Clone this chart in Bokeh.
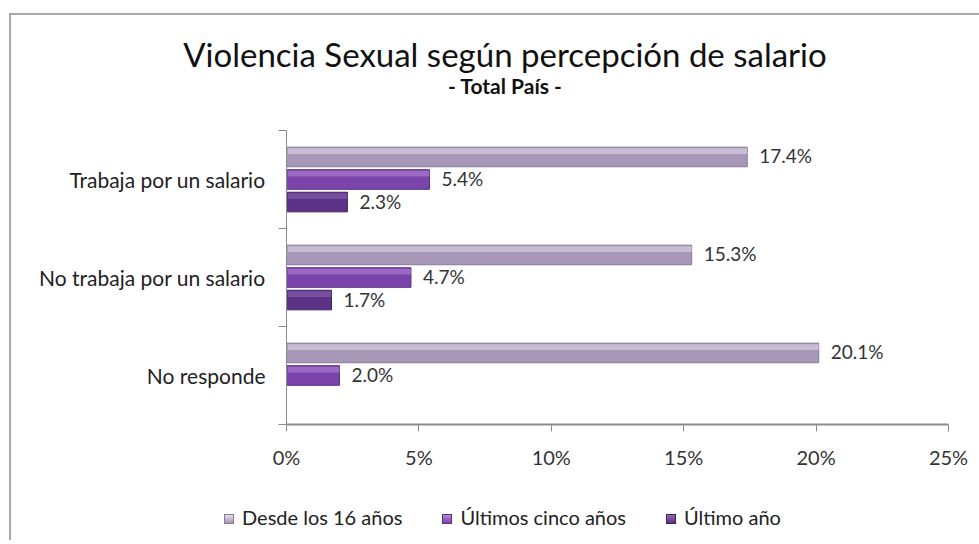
from bokeh.plotting import figure
from bokeh.models import (ColumnDataSource, Range1d, FixedTicker, LabelSet, Div)
from bokeh.layouts import column
from bokeh.embed import file_html
from bokeh.resources import INLINE
from bokeh.core.properties import value

# ---- data ----
categories = ["Trabaja por un salario", "No trabaja por un salario", "No responde"]
series_names = ["Desde los 16 años", "Últimos cinco años", "Último año"]
desde_16 = [17.4, 15.3, 20.1]
cinco_anos = [5.4, 4.7, 2.0]
ultimo_ano = [2.3, 1.7, None]
x_ticks = [0, 5, 10, 15, 20, 25]
x_tick_labels = ["0%", "5%", "10%", "15%", "20%", "25%"]
title_text = "Violencia Sexual según percepción de salario"
subtitle_text = "- Total País -"

# ---- style ----
FONT = "Lato"
OX, OY = 11, 15          # offset of content inside the grey chart border
W = 968
colors = ["#a698b6", "#7a44aa", "#5b3286"]
highlights = ["#e4ddec", "#b288d8", "#8e68b2"]
line_colors = ["#857898", "#5a2f86", "#41235f"]
offsets = [0.23, 0.0, -0.23]
bar_h = 0.2

n = len(categories)
centers = [n - i - 0.5 for i in range(n)]

# ---- title block ----
title_div = Div(
    text=(f'<div style="position:relative;width:{W}px;height:85px;font-family:Lato;color:#111;">'
          f'<div style="position:absolute;left:{30 - OX}px;width:950px;top:{37 - OY}px;text-align:center;'
          f'font-size:33px;line-height:34px;white-space:nowrap;">{title_text}</div>'
          f'<div style="position:absolute;left:{30 - OX}px;width:950px;top:{75 - OY}px;text-align:center;'
          f'font-size:21px;font-weight:bold;line-height:22px;white-space:nowrap;">{subtitle_text}</div>'
          '</div>'),
    width=W, height=85, margin=0)

# ---- main chart ----
p = figure(width=W, height=390, output_backend="svg", toolbar_location=None,
           title=None, x_range=Range1d(0, 25), y_range=Range1d(0, n),
           min_border_left=286 - OX, min_border_right=W - (948 - OX), min_border_top=30,
           min_border_bottom=66, margin=0)
p.outline_line_color = None
p.xgrid.visible = False
p.ygrid.visible = False

for s, vals in enumerate([desde_16, cinco_anos, ultimo_ano]):
    ys, yh, rs, labs = [], [], [], []
    for i, v in enumerate(vals):
        if v is None:
            continue
        ys.append(centers[i] + offsets[s])
        yh.append(centers[i] + offsets[s] + bar_h * 0.3)
        rs.append(v)
        labs.append(f"{v:.1f}%")
    src = ColumnDataSource(dict(y=ys, yh=yh, right=rs, lab=labs))
    p.hbar(y="y", left=0, right="right", height=bar_h, source=src,
           fill_color=colors[s], line_color=line_colors[s], line_width=1)
    # glossy highlight on the upper part of each bar
    p.hbar(y="yh", left=0.05, right="right", height=bar_h * 0.3, source=src,
           fill_color=highlights[s], fill_alpha=0.55, line_color=None)
    ls = LabelSet(x="right", y="y", text="lab", source=src, x_offset=12, y_offset=1,
                  text_baseline="middle", text_font=value(FONT),
                  text_font_size="19px", text_color="#333333")
    p.add_layout(ls)

# x axis
xa = p.xaxis[0]
xa.ticker = FixedTicker(ticks=x_ticks)
xa.major_label_overrides = {t: l for t, l in zip(x_ticks, x_tick_labels)}
xa.axis_line_color = "#8c8c8c"
xa.axis_line_width = 2
xa.major_tick_line_color = "#8c8c8c"
xa.major_tick_out = 7
xa.major_tick_in = 0
xa.minor_tick_line_color = None
xa.major_label_text_font = FONT
xa.major_label_text_font_size = "20px"
xa.major_label_text_color = "#333333"
xa.major_label_standoff = 13

# y axis
ya = p.yaxis[0]
ya.ticker = FixedTicker(ticks=centers, minor_ticks=list(range(n + 1)))
ya.major_label_overrides = {c: cat for c, cat in zip(centers, categories)}
ya.axis_line_color = "#8c8c8c"
ya.axis_line_width = 1
ya.major_tick_line_color = None
ya.major_tick_out = 0
ya.major_tick_in = 0
ya.minor_tick_line_color = "#8c8c8c"
ya.minor_tick_out = 8
ya.minor_tick_in = 0
ya.major_label_text_font = FONT
ya.major_label_text_font_size = "21px"
ya.major_label_text_color = "#222222"
ya.major_label_standoff = 13

# ---- legend strip ----
swatch = ('<span style="display:inline-block;width:10px;height:10px;margin-right:8px;'
          'vertical-align:middle;position:relative;top:-1px;border:1px solid {lc};'
          'background:linear-gradient(to bottom,{hc},{c});box-sizing:border-box;"></span>')
items_html = "".join(
    f'<span style="display:inline-block;margin-right:40px;white-space:nowrap;">'
    f'{swatch.format(c=colors[s], hc=highlights[s], lc=line_colors[s])}{name}</span>'
    for s, name in enumerate(series_names))
legend_div = Div(
    text=(f'<div style="position:relative;width:{W}px;height:50px;font-family:Lato;'
          f'font-size:20px;color:#222;">'
          f'<div style="position:absolute;left:{224 - OX}px;top:15px;line-height:24px;'
          f'white-space:nowrap;">{items_html}</div></div>'),
    width=W, height=50, margin=0)

layout = column(title_div, p, legend_div, spacing=0, margin=(OY - 2, 0, 0, OX - 2),
                styles={"border-top": "2px solid #a8a8a8", "border-left": "2px solid #a8a8a8"})
open("out.html", "w").write(file_html(layout, INLINE))
